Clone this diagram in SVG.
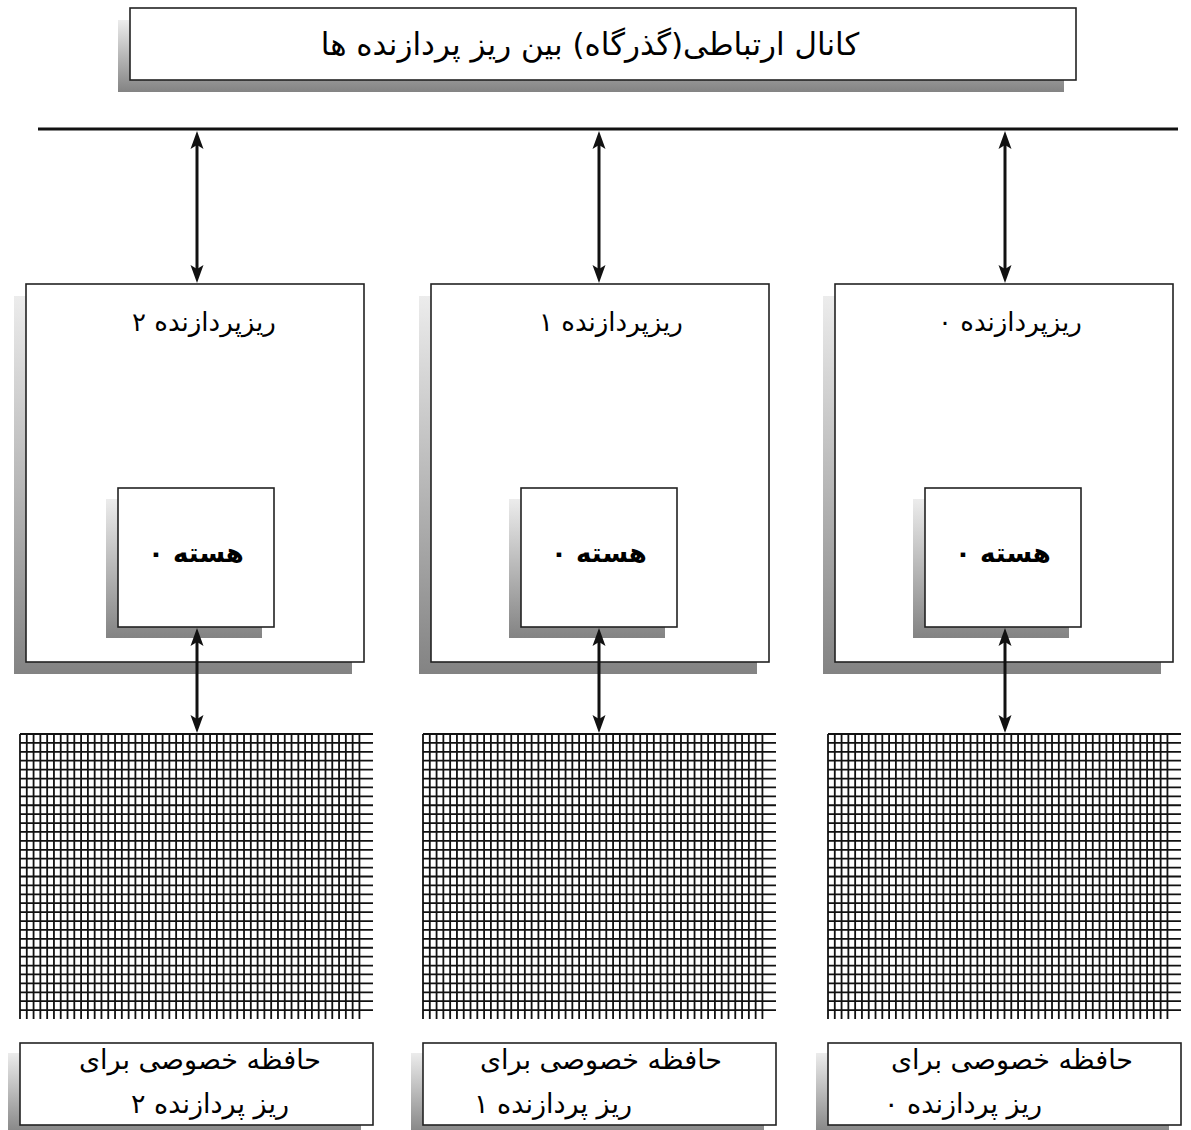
<svg xmlns="http://www.w3.org/2000/svg" xmlns:xlink="http://www.w3.org/1999/xlink" width="1191" height="1130" viewBox="0 0 1191 1130">
  <style>
    .box { fill: #ffffff; stroke: #222222; stroke-width: 1.6; }
    .shadow { fill: url(#shadeGrad); stroke: none; }
    .lbl { font-family: 'DejaVu Sans', 'Noto Sans', sans-serif; fill: #000000; text-anchor: middle; direction: rtl; }
    .title { font-size: 31px; }
    .proc { font-size: 26px; }
    .core { font-size: 26px; font-weight: bold; }
    .mem { font-size: 27px; }
    .conn { stroke: #111111; stroke-width: 3; fill: none; marker-start: url(#head); marker-end: url(#head); }
    .grid { stroke: #111111; stroke-width: 1.8; fill: none; }
  </style>
  <defs>
    <linearGradient id="shadeGrad" x1="0" y1="0" x2="0" y2="1">
      <stop offset="0" stop-color="#ececec"/>
      <stop offset="1" stop-color="#838383"/>
    </linearGradient>
    <marker id="head" markerUnits="userSpaceOnUse" markerWidth="20" markerHeight="16" refX="8" refY="0" viewBox="0 -8 20 16" orient="auto-start-reverse">
      <path d="M0,-6.5 L18,0 L0,6.5 L4,0 Z" fill="#111111"/>
    </marker>
    <!-- memory cell array: 52 columns x 32 rows -->
    <path id="cells" class="grid" d="M0 0v285m6.7885 -285v285m6.7885 -285v285m6.7885 -285v285m6.7885 -285v285m6.7885 -285v285m6.7885 -285v285m6.7885 -285v285m6.7885 -285v285m6.7885 -285v285m6.7885 -285v285m6.7885 -285v285m6.7885 -285v285m6.7885 -285v285m6.7885 -285v285m6.7885 -285v285m6.7885 -285v285m6.7885 -285v285m6.7885 -285v285m6.7885 -285v285m6.7885 -285v285m6.7885 -285v285m6.7885 -285v285m6.7885 -285v285m6.7885 -285v285m6.7885 -285v285m6.7885 -285v285m6.7885 -285v285m6.7885 -285v285m6.7885 -285v285m6.7885 -285v285m6.7885 -285v285m6.7885 -285v285m6.7885 -285v285m6.7885 -285v285m6.7885 -285v285m6.7885 -285v285m6.7885 -285v285m6.7885 -285v285m6.7885 -285v285m6.7885 -285v285m6.7885 -285v285m6.7885 -285v285m6.7885 -285v285m6.7885 -285v285m6.7885 -285v285m6.7885 -285v285m6.7885 -285v285m6.7885 -285v285m6.7885 -285v285m6.7885 -285v285M0 0h353m-353 8.90625h353m-353 8.90625h353m-353 8.90625h353m-353 8.90625h353m-353 8.90625h353m-353 8.90625h353m-353 8.90625h353m-353 8.90625h353m-353 8.90625h353m-353 8.90625h353m-353 8.90625h353m-353 8.90625h353m-353 8.90625h353m-353 8.90625h353m-353 8.90625h353m-353 8.90625h353m-353 8.90625h353m-353 8.90625h353m-353 8.90625h353m-353 8.90625h353m-353 8.90625h353m-353 8.90625h353m-353 8.90625h353m-353 8.90625h353m-353 8.90625h353m-353 8.90625h353m-353 8.90625h353m-353 8.90625h353m-353 8.90625h353m-353 8.90625h353m-353 8.90625h353"/>
  </defs>

  <rect width="1191" height="1130" fill="#ffffff"/>

  <!-- interconnect channel -->
  <g id="channel">
    <rect class="shadow" x="118" y="20" width="946" height="72"/>
    <rect class="box" x="130" y="8" width="946" height="72"/>
    <text class="lbl title" x="590" y="55">کانال ارتباطی(گذرگاه) بین ریز پردازنده ها</text>
  </g>

  <!-- shared bus -->
  <g id="bus">
    <line x1="38" y1="129" x2="1178" y2="129" stroke="#111111" stroke-width="3"/>
  </g>

  <!-- processors -->
  <g id="proc2">
    <rect class="shadow" x="14" y="296" width="338" height="378"/>
    <rect class="box" x="26" y="284" width="338" height="378"/>
    <text class="lbl proc" x="204" y="331">ریزپردازنده ۲</text>
  </g>
  <g id="proc1">
    <rect class="shadow" x="419" y="296" width="338" height="378"/>
    <rect class="box" x="431" y="284" width="338" height="378"/>
    <text class="lbl proc" x="611" y="331">ریزپردازنده ۱</text>
  </g>
  <g id="proc0">
    <rect class="shadow" x="823" y="296" width="338" height="378"/>
    <rect class="box" x="835" y="284" width="338" height="378"/>
    <text class="lbl proc" x="1010" y="331">ریزپردازنده ۰</text>
  </g>

  <!-- cores -->
  <g id="core2">
    <rect class="shadow" x="106" y="499" width="156" height="139"/>
    <rect class="box" x="118" y="488" width="156" height="139"/>
    <text class="lbl core" x="196" y="562">هسته ۰</text>
  </g>
  <g id="core1">
    <rect class="shadow" x="509" y="499" width="156" height="139"/>
    <rect class="box" x="521" y="488" width="156" height="139"/>
    <text class="lbl core" x="599" y="562">هسته ۰</text>
  </g>
  <g id="core0">
    <rect class="shadow" x="913" y="499" width="156" height="139"/>
    <rect class="box" x="925" y="488" width="156" height="139"/>
    <text class="lbl core" x="1003" y="562">هسته ۰</text>
  </g>

  <!-- private memories -->
  <g id="mem2">
    <use xlink:href="#cells" x="20" y="734"/>
    <rect class="shadow" x="8" y="1053" width="353" height="82"/>
    <rect class="box" x="20" y="1043" width="353" height="82"/>
    <text class="lbl mem" x="200" y="1069">حافظه خصوصی برای</text>
    <text class="lbl mem" x="210" y="1113">ریز پردازنده ۲</text>
  </g>
  <g id="mem1">
    <use xlink:href="#cells" x="423" y="734"/>
    <rect class="shadow" x="411" y="1053" width="353" height="82"/>
    <rect class="box" x="423" y="1043" width="353" height="82"/>
    <text class="lbl mem" x="601" y="1069">حافظه خصوصی برای</text>
    <text class="lbl mem" x="553" y="1113">ریز پردازنده ۱</text>
  </g>
  <g id="mem0">
    <use xlink:href="#cells" x="828" y="734"/>
    <rect class="shadow" x="816" y="1053" width="353" height="82"/>
    <rect class="box" x="828" y="1043" width="353" height="82"/>
    <text class="lbl mem" x="1012" y="1069">حافظه خصوصی برای</text>
    <text class="lbl mem" x="963" y="1113">ریز پردازنده ۰</text>
  </g>

  <!-- connectors -->
  <g id="connectors">
    <line class="conn" x1="197" y1="141" x2="197" y2="273"/>
    <line class="conn" x1="599" y1="141" x2="599" y2="273"/>
    <line class="conn" x1="1005" y1="141" x2="1005" y2="273"/>
    <line class="conn" x1="197" y1="638" x2="197" y2="723"/>
    <line class="conn" x1="599" y1="638" x2="599" y2="723"/>
    <line class="conn" x1="1005" y1="638" x2="1005" y2="723"/>
  </g>
</svg>
